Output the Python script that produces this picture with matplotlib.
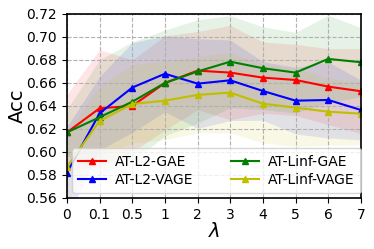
import numpy as np
import matplotlib
matplotlib.use("Agg")
import matplotlib.pyplot as plt

xlabels = ["0", "0.1", "0.5", "1", "2", "3", "4", "5", "6", "7"]
l2_gae = [0.617, 0.638, 0.640, 0.660, 0.6707, 0.669, 0.6646, 0.6626, 0.6568, 0.6528]
l2_gae_std = [0.033, 0.051, 0.040, 0.041, 0.034, 0.041, 0.031, 0.031, 0.033, 0.037]
l2_vage = [0.582, 0.6336, 0.656, 0.668, 0.6594, 0.6623, 0.653, 0.6446, 0.6452, 0.6365]
l2_vage_std = [0.040, 0.032, 0.039, 0.033, 0.039, 0.035, 0.0255, 0.029, 0.033, 0.026]
linf_gae = [0.617, 0.6302, 0.6437, 0.660, 0.670, 0.6785, 0.6728, 0.669, 0.6809, 0.678]
linf_gae_std = [0.020, 0.050, 0.052, 0.046, 0.045, 0.040, 0.036, 0.035, 0.038, 0.030]
linf_vage = [0.587, 0.627, 0.6417, 0.6446, 0.6496, 0.6516, 0.642, 0.6385, 0.635, 0.6333]
linf_vage_std = [0.030, 0.030, 0.034, 0.034, 0.033, 0.035, 0.034, 0.034, 0.029, 0.027]

series = [
    ("AT-L2-GAE", l2_gae, l2_gae_std, "r"),
    ("AT-L2-VAGE", l2_vage, l2_vage_std, "b"),
    ("AT-Linf-GAE", linf_gae, linf_gae_std, "g"),
    ("AT-Linf-VAGE", linf_vage, linf_vage_std, "y"),
]

fig = plt.figure(figsize=(3.74, 2.49), dpi=100)
ax = fig.add_axes([0.179, 0.205, 0.786, 0.739])
x = np.arange(len(xlabels))
for name, m, s, c in series:
    m = np.array(m); s = np.array(s)
    ax.plot(x, m, color=c, marker="^", markersize=5, linewidth=1.5, label=name)
    ax.fill_between(x, m - s, m + s, color=c, alpha=0.1, linewidth=0)

ax.set_xlim(0, 9)
ax.set_ylim(0.56, 0.72)
ax.set_xticks(x)
ax.set_xticklabels(xlabels, fontsize=10)
yt = np.arange(0.56, 0.7201, 0.02)
ax.set_yticks(yt)
ax.set_yticklabels(["%.2f" % v for v in yt], fontsize=10)
ax.grid(True, linestyle="--", color="#b0b0b0", linewidth=0.8)
ax.set_xlabel(r"$\lambda$", fontsize=14, labelpad=0)
ax.set_ylabel("Acc", fontsize=14)
ax.yaxis.set_label_coords(-0.135, 0.5)
ax.legend(loc="lower left", ncol=2, fontsize=10, borderaxespad=0.35,
          borderpad=0.45, labelspacing=0.3, handletextpad=0.65,
          columnspacing=2.7, handlelength=2.0)
for sp in ax.spines.values():
    sp.set_linewidth(1.2)
fig.savefig("out.png", dpi=100)
